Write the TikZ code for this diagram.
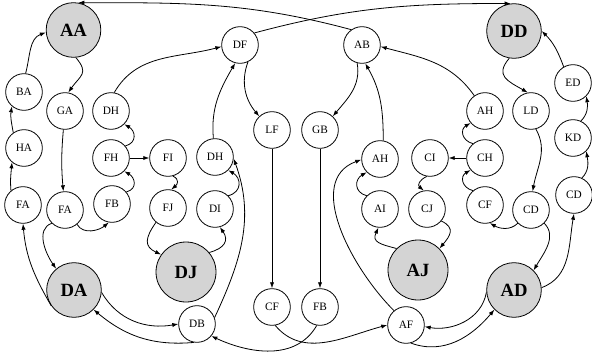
\documentclass[tikz,border=0pt]{standalone}
\usepackage{fontspec}
\setmainfont{Liberation Serif}
\usetikzlibrary{arrows.meta}
\tikzstyle{state}=[circle,draw=black,line width=0.6pt,minimum size=27.5pt,inner sep=0pt,font=\fontsize{8.5}{10}\selectfont]
\tikzstyle{hub}=[state,fill=black!17,minimum size=41pt,font=\fontsize{14}{16}\selectfont\bfseries]
\tikzstyle{bighub}=[hub,minimum size=45pt]
\tikzstyle{link}=[-{Latex[length=4.5pt,width=3.2pt]},line width=0.6pt]
\tikzstyle{hooklink}=[link,looseness=1.5]

\begin{document}
\begin{tikzpicture}[x=0.75pt,y=0.75pt]
  \useasboundingbox (0,0) rectangle (592,-356);
  % hubs
  \node[hub] (AA) at (73.5,-30) {AA};
  \node[hub] (DD) at (514,-31) {DD};
  \node[hub] (DA) at (74,-290) {DA};
  \node[hub] (AD) at (514,-290) {AD};
  \node[bighub] (DJ) at (186,-272) {DJ};
  \node[bighub] (AJ) at (418,-270) {AJ};
  % left side
  \node[state] (BA) at (24,-92) {BA};
  \node[state] (HA) at (24,-148) {HA};
  \node[state] (FA1) at (23,-205) {FA};
  \node[state] (GA) at (65,-111) {GA};
  \node[state] (FA2) at (65,-210) {FA};
  \node[state] (DH1) at (111,-111) {DH};
  \node[state] (FH) at (111,-158) {FH};
  \node[state] (FB1) at (112,-204) {FB};
  \node[state] (FI) at (168,-158) {FI};
  \node[state] (FJ) at (168,-208) {FJ};
  \node[state] (DH2) at (215,-157) {DH};
  \node[state] (DI) at (215,-209) {DI};
  \node[state] (DB) at (197,-324) {DB};
  % middle
  \node[state] (DF) at (240,-45) {DF};
  \node[state] (AB) at (362,-45) {AB};
  \node[state] (LF) at (272,-130) {LF};
  \node[state] (GB) at (320,-130) {GB};
  \node[state] (CF1) at (272,-307) {CF};
  \node[state] (FB2) at (320,-307) {FB};
  \node[state] (AF) at (406,-325) {AF};
  % right side
  \node[state] (AH1) at (380,-159) {AH};
  \node[state] (AI) at (380,-209) {AI};
  \node[state] (CI) at (430,-158) {CI};
  \node[state] (CJ) at (427,-209) {CJ};
  \node[state] (CH) at (485,-158) {CH};
  \node[state] (AH2) at (485,-111) {AH};
  \node[state] (CF2) at (485,-205) {CF};
  \node[state] (LD) at (531,-111) {LD};
  \node[state] (CD1) at (531,-210) {CD};
  \node[state] (ED) at (573,-83) {ED};
  \node[state] (KD) at (573,-138) {KD};
  \node[state] (CD2) at (574,-195) {CD};

  % long top arcs
  \draw[link] (AB.125) to[out=165,in=0] (AA.80);
  \draw[link] (DF.40) to[out=15,in=180] (DD.97);
  % left
  \draw[link] (BA.85) to[out=75,in=200] (AA.185);
  \draw[hooklink] (AA.-85) to[out=-50,in=55] (GA.80);
  \draw[link] (HA.125) to[out=100,in=260] (BA.230);
  \draw[link] (FA1.130) to[out=95,in=265] (HA.230);
  \draw[link] (DA.215) to[out=120,in=-85] (FA1.-90);
  \draw[link] (FA2.225) to[out=200,in=125] (DA.130);
  \draw[link] (FA2.-50) to[out=-60,in=220] (FB1.-100);
  \draw[link] (GA.-95) to[out=-95,in=95] (FA2.95);
  \draw[hooklink] (FB1.40) to[out=15,in=-30] (FH.-45);
  \draw[hooklink] (FH.40) to[out=15,in=-30] (DH1.-45);
  \draw[link] (FH) -- (FI);
  \draw[hooklink] (FI.-75) to[out=-25,in=40] (FJ.80);
  \draw[hooklink] (FJ.230) to[out=235,in=155] (DJ.145);
  \draw[hooklink] (DJ.40) to[out=15,in=-55] (DI.-75);
  \draw[hooklink] (DI.45) to[out=15,in=-30] (DH2.-45);
  \draw[link] (DH2.95) to[out=95,in=240] (DF.-105);
  \draw[link] (DH1.80) to[out=60,in=195] (DF.185);
  \draw[link] (DB.20) to[out=65,in=-70] (DH2.-5);
  \draw[link] (DA.-5) to[out=-60,in=190] (DB.180);
  \draw[link] (DB.-100) to[out=185,in=-40] (DA.-45);
  % middle
  \draw[link] (DF.-65) to[out=-110,in=130] (LF.133);
  \draw[link] (AB.-105) to[out=-80,in=50] (GB.47);
  \draw[link] (LF) -- (CF1);
  \draw[link] (GB) -- (FB2);
  \draw[link] (FB2.-100) to[out=-120,in=-25] (DB.-40);
  \draw[link] (CF1.-80) to[out=-50,in=195] (AF.180);
  % right
  \draw[link] (AH2.125) to[out=125,in=-15] (AB.-5);
  \draw[link] (AH1.80) to[out=90,in=-60] (AB.-80);
  \draw[link] (AF.130) to[out=135,in=200] (AH1.182);
  \draw[hooklink] (AI.135) to[out=165,in=210] (AH1.225);
  \draw[hooklink] (AJ.135) to[out=165,in=-115] (AI.-95);
  \draw[link] (CH) -- (CI);
  \draw[hooklink] (CI.-100) to[out=-155,in=140] (CJ.100);
  \draw[hooklink] (CJ.-40) to[out=-25,in=50] (AJ.45);
  \draw[hooklink] (CF2.130) to[out=165,in=210] (CH.220);
  \draw[hooklink] (CH.130) to[out=165,in=210] (AH2.220);
  \draw[link] (CD1.-135) to[out=-135,in=-30] (CF2.-75);
  \draw[hooklink] (DD.-100) to[out=-130,in=150] (LD.100);
  \draw[link] (LD.-75) to[out=-60,in=80] (CD1.85);
  \draw[link] (ED.120) to[out=110,in=-45] (DD.0);
  \draw[link] (KD.65) to[out=45,in=-80] (ED.-45);
  \draw[link] (CD2.65) to[out=45,in=-80] (KD.-45);
  \draw[link] (AD.5) to[out=20,in=-100] (CD2.-90);
  \draw[link] (CD1.-45) to[out=-45,in=60] (AD.45);
  \draw[link] (AD.185) to[out=-100,in=-10] (AF.-5);
  \draw[link] (AF.-75) to[out=-20,in=230] (AD.225);
\end{tikzpicture}
\end{document}
